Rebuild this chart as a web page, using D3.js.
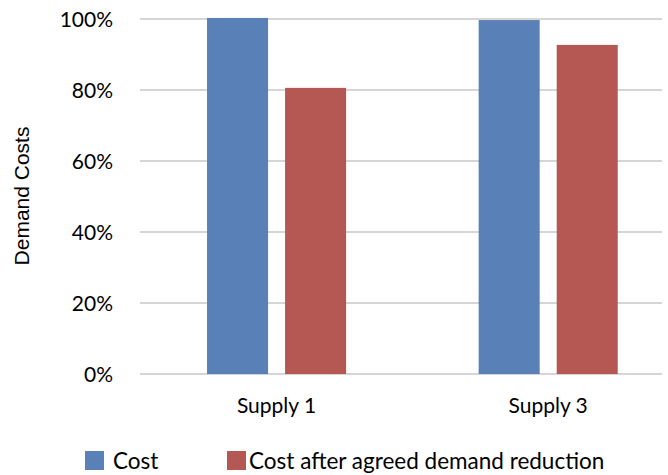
<!DOCTYPE html>
<html>
<head>
<meta charset="utf-8">
<script src="https://cdn.jsdelivr.net/npm/d3@7"></script>
<style>
  html, body { margin: 0; padding: 0; background: #fff; }
  svg text { font-family: Lato, "Noto Sans", sans-serif; fill: #000; }
</style>
</head>
<body>
<svg id="chart" width="668" height="475"></svg>
<script>
// data
var categories = ["Supply 1", "Supply 3"];
var seriesNames = ["Cost", "Cost after agreed demand reduction"];
var costValues = [1.003, 0.997];
var reducedValues = [0.806, 0.927];
var yTicks = [0, 0.2, 0.4, 0.6, 0.8, 1.0];
var colors = ["#5a80b8", "#b55752"];

var svg = d3.select("#chart");

var x0 = d3.scaleBand().domain(categories).range([140.75, 684]).padding(0);
var x1 = d3.scaleBand().domain(seriesNames)
  .range([x0.bandwidth() * 0.244, x0.bandwidth() * 0.756])
  .paddingInner(0.218);
var y = d3.scaleLinear().domain([0, 1]).range([374, 19]);

// gridlines
svg.append("g").selectAll("line").data(yTicks).join("line")
  .attr("x1", 140).attr("x2", 662)
  .attr("y1", function (d) { return y(d); }).attr("y2", function (d) { return y(d); })
  .attr("stroke", "#c9c9c9").attr("stroke-width", 1.5);

// y tick labels
svg.append("g").selectAll("text").data(yTicks).join("text")
  .attr("x", 113).attr("y", function (d) { return y(d); })
  .attr("dy", "0.36em")
  .attr("text-anchor", "end")
  .style("font-size", "21px")
  .text(d3.format(".0%"));

// bars
var rows = categories.map(function (c, i) {
  return { cat: c, vals: [costValues[i], reducedValues[i]] };
});
svg.append("g").selectAll("g").data(rows).join("g")
  .attr("transform", function (d) { return "translate(" + x0(d.cat) + ",0)"; })
  .selectAll("rect")
  .data(function (d) { return d.vals.map(function (v, j) { return { s: seriesNames[j], v: v, j: j }; }); })
  .join("rect")
  .attr("x", function (d) { return x1(d.s); })
  .attr("width", x1.bandwidth())
  .attr("y", function (d) { return y(d.v); })
  .attr("height", function (d) { return y(0) - y(d.v); })
  .attr("fill", function (d) { return colors[d.j]; });

// category labels
svg.append("g").selectAll("text").data(categories).join("text")
  .attr("x", function (d) { return x0(d) + x0.bandwidth() / 2; })
  .attr("y", 413)
  .attr("text-anchor", "middle")
  .style("font-size", "21px")
  .text(function (d) { return d; });

// y axis title
svg.append("text")
  .attr("transform", "translate(29,196) rotate(-90)")
  .attr("text-anchor", "middle")
  .style("font-family", "'Liberation Sans', sans-serif")
  .style("font-size", "21px")
  .text("Demand Costs");

// legend
var legendX = [85, 227];
var lg = svg.append("g").selectAll("g").data(seriesNames).join("g")
  .attr("transform", function (d, i) { return "translate(" + legendX[i] + ",451)"; });
lg.append("rect").attr("width", 19).attr("height", 19)
  .attr("fill", function (d, i) { return colors[i]; });
lg.append("text").attr("x", function (d, i) { return i === 0 ? 28 : 22; }).attr("y", 18)
  .style("font-size", "22.5px")
  .text(function (d) { return d; });
</script>
</body>
</html>
